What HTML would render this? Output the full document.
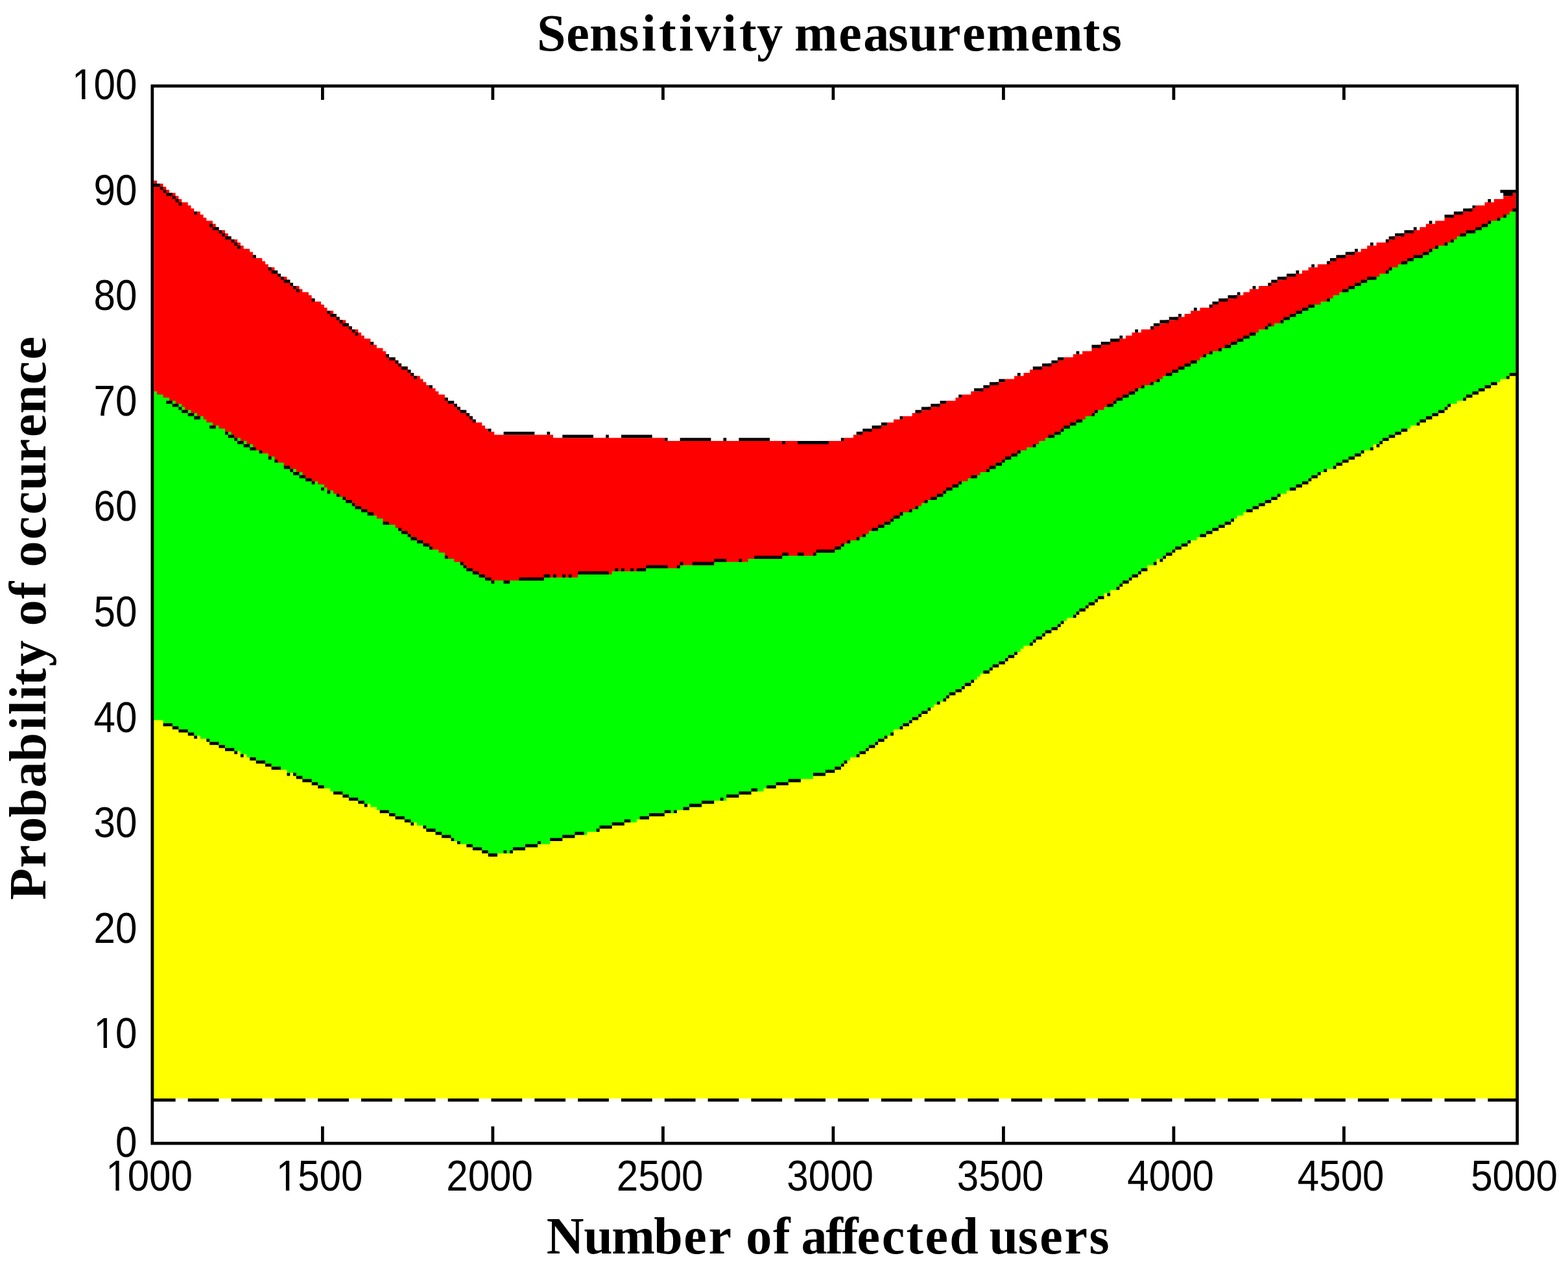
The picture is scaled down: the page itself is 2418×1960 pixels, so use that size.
<!DOCTYPE html>
<html lang="en">
<head>
<meta charset="utf-8">
<title>Sensitivity measurements</title>
<style>
html,body{margin:0;padding:0;background:#ffffff;width:2418px;height:1960px;overflow:hidden}
svg text{fill:#000000}
.tk{font-family:"Liberation Sans",Arial,Helvetica,sans-serif;font-size:67.3px}
.lb{font-family:"Liberation Serif","Times New Roman",Times,serif;font-weight:bold;font-size:80.0px}
</style>
</head>
<body>
<svg width="2418" height="1960" viewBox="0 0 2418 1960" style="display:block">
<rect x="0" y="0" width="2418" height="1960" fill="#ffffff"/>
<path fill="#ff0000" d="M237.24 1693.89V278.42H242.02V283.2H251.56V287.99H256.33V292.77H261.11V297.55H270.65V302.33H275.43V307.11H280.2V311.9H289.75V316.68H294.52V321.46H299.29V326.24H308.84V331.02H313.61V335.81H318.38V340.59H327.93V345.37H332.7V350.15H337.48V354.93H347.02V359.72H351.79V364.5H356.57V369.28H366.11V374.06H370.89V378.84H375.66V383.63H385.21V388.41H389.98V393.19H394.75V397.97H404.3V402.75H409.07V407.54H413.84V412.32H423.39V417.1H428.16V421.88H432.94V426.66H442.48V431.45H447.25V436.23H452.03V441.01H461.57V445.79H466.35V450.57H475.89V455.36H480.67V460.14H485.44V464.92H494.99V469.7H499.76V474.48H504.53V479.27H514.08V484.05H518.85V488.83H523.62V493.61H533.17V498.39H537.94V503.18H542.72V507.96H552.26V512.74H557.03V517.52H561.81V522.3H571.35V527.09H576.13V531.87H580.9V536.65H590.44V541.43H595.22V546.21H599.99V551H609.54V555.78H614.31V560.56H619.08V565.34H628.63V570.12H633.4V574.91H638.17V579.69H647.72V584.47H652.49V589.25H657.27V594.03H666.81V598.82H671.59V603.6H676.36V608.38H685.9V613.16H690.68V617.94H695.45V622.73H705V627.51H709.77V632.29H714.54V637.07H724.09V641.85H728.86V646.64H733.63V651.42H743.18V656.2H747.95V660.98H752.73V665.76H762.27V670.55H852.96V675.33H1024.79V680.11H1301.62V675.33H1315.94V670.55H1325.49V665.76H1339.81V660.98H1354.12V656.2H1368.44V651.42H1377.99V646.64H1392.31V641.85H1406.63V637.07H1420.95V632.29H1430.49V627.51H1444.81V622.73H1459.13V617.94H1473.45V613.16H1483V608.38H1497.32V603.6H1511.63V598.82H1525.95V594.03H1535.5V589.25H1549.82V584.47H1564.14V579.69H1578.46V574.91H1588V570.12H1602.32V565.34H1616.64V560.56H1630.96V555.78H1640.5V551H1654.82V546.21H1669.14V541.43H1683.46V536.65H1693.01V531.87H1707.33V527.09H1721.65V522.3H1735.96V517.52H1745.51V512.74H1759.83V507.96H1774.15V503.18H1788.47V498.39H1798.01V493.61H1812.33V488.83H1826.65V484.05H1836.2V479.27H1850.52V474.48H1864.84V469.7H1879.15V464.92H1888.7V460.14H1903.02V455.36H1917.34V450.57H1926.88V445.79H1941.2V441.01H1955.52V436.23H1969.84V431.45H1979.39V426.66H1993.71V421.88H2008.03V417.1H2017.57V412.32H2031.89V407.54H2046.21V402.75H2055.76V397.97H2070.07V393.19H2084.39V388.41H2098.71V383.63H2108.26V378.84H2122.58V374.06H2136.9V369.28H2146.44V364.5H2160.76V359.72H2175.08V354.93H2189.4V350.15H2198.95V345.37H2213.26V340.59H2227.58V335.81H2237.13V331.02H2251.45V326.24H2265.77V321.46H2275.31V316.68H2289.63V311.9H2303.95V307.11H2318.27V302.33H2327.82V297.55H2337.36V1693.89Z"/>
<path fill="#00ff00" d="M237.24 1693.89V603.6H242.02V608.38H251.56V613.16H261.11V617.94H270.65V622.73H280.2V627.51H284.97V632.29H294.52V637.07H304.06V641.85H313.61V646.64H318.38V651.42H327.93V656.2H337.48V660.98H347.02V665.76H356.57V670.55H361.34V675.33H370.89V680.11H380.43V684.89H389.98V689.67H394.75V694.46H404.3V699.24H413.84V704.02H423.39V708.8H428.16V713.58H437.71V718.37H447.25V723.15H456.8V727.93H466.35V732.71H471.12V737.49H480.67V742.28H490.21V747.06H499.76V751.84H504.53V756.62H514.08V761.4H523.62V766.19H533.17V770.97H542.72V775.75H547.49V780.53H557.03V785.31H566.58V790.1H576.13V794.88H580.9V799.66H590.44V804.44H599.99V809.22H609.54V814.01H614.31V818.79H623.86V823.57H633.4V828.35H642.95V833.13H652.49V837.92H657.27V842.7H666.81V847.48H676.36V852.26H685.9V857.04H690.68V861.83H700.22V866.61H709.77V871.39H719.32V876.17H728.86V880.95H733.63V885.74H743.18V890.52H752.73V895.3H838.64V890.52H891.14V885.74H943.65V880.95H996.15V876.17H1048.65V871.39H1101.16V866.61H1153.66V861.83H1206.16V857.04H1258.66V852.26H1287.3V847.48H1292.08V842.7H1301.62V837.92H1311.17V833.13H1320.71V828.35H1330.26V823.57H1339.81V818.79H1349.35V814.01H1358.9V809.22H1363.67V804.44H1373.22V799.66H1382.76V794.88H1392.31V790.1H1401.86V785.31H1411.4V780.53H1420.95V775.75H1430.49V770.97H1440.04V766.19H1449.59V761.4H1454.36V756.62H1463.9V751.84H1473.45V747.06H1483V742.28H1492.54V737.49H1502.09V732.71H1511.63V727.93H1521.18V723.15H1530.73V718.37H1535.5V713.58H1545.04V708.8H1554.59V704.02H1564.14V699.24H1573.68V694.46H1583.23V689.67H1592.77V684.89H1602.32V680.11H1611.87V675.33H1621.41V670.55H1626.19V665.76H1635.73V660.98H1645.28V656.2H1654.82V651.42H1664.37V646.64H1673.92V641.85H1683.46V637.07H1693.01V632.29H1702.55V627.51H1712.1V622.73H1716.87V617.94H1726.42V613.16H1735.96V608.38H1745.51V603.6H1755.06V598.82H1764.6V594.03H1774.15V589.25H1783.69V584.47H1793.24V579.69H1798.01V574.91H1807.56V570.12H1821.88V565.34H1831.42V560.56H1840.97V555.78H1850.52V551H1860.06V546.21H1869.61V541.43H1883.93V536.65H1893.47V531.87H1903.02V527.09H1912.57V522.3H1922.11V517.52H1931.66V512.74H1941.2V507.96H1950.75V503.18H1965.07V498.39H1974.62V493.61H1984.16V488.83H1993.71V484.05H2003.25V479.27H2012.8V474.48H2022.34V469.7H2036.66V464.92H2046.21V460.14H2055.76V455.36H2065.3V450.57H2074.85V445.79H2084.39V441.01H2093.94V436.23H2103.49V431.45H2117.8V426.66H2127.35V421.88H2136.9V417.1H2146.44V412.32H2155.99V407.54H2165.53V402.75H2175.08V397.97H2189.4V393.19H2198.95V388.41H2208.49V383.63H2218.04V378.84H2227.58V374.06H2237.13V369.28H2246.68V364.5H2256.22V359.72H2270.54V354.93H2280.09V350.15H2289.63V345.37H2299.18V340.59H2308.72V335.81H2318.27V331.02H2327.82V326.24H2337.36V1693.89Z"/>
<path fill="#ffff00" d="M237.24 1693.89V1110.49H251.56V1115.27H261.11V1120.05H275.43V1124.84H284.97V1129.62H299.29V1134.4H308.84V1139.18H323.16V1143.96H332.7V1148.75H347.02V1153.53H356.57V1158.31H370.89V1163.09H380.43V1167.87H394.75V1172.66H404.3V1177.44H418.62V1182.22H428.16V1187H442.48V1191.78H452.03V1196.57H461.57V1201.35H475.89V1206.13H485.44V1210.91H499.76V1215.69H509.3V1220.48H523.62V1225.26H533.17V1230.04H547.49V1234.82H557.03V1239.6H571.35V1244.39H580.9V1249.17H595.22V1253.95H604.76V1258.73H619.08V1263.51H628.63V1268.3H642.95V1273.08H652.49V1277.86H662.04V1282.64H676.36V1287.42H685.9V1292.21H700.22V1296.99H709.77V1301.77H724.09V1306.55H733.63V1311.33H747.95V1316.12H790.91V1311.33H810V1306.55H829.1V1301.77H848.19V1296.99H867.28V1292.21H886.37V1287.42H905.46V1282.64H924.55V1277.86H943.65V1273.08H962.74V1268.3H981.83V1263.51H1000.92V1258.73H1020.01V1253.95H1039.11V1249.17H1062.97V1244.39H1082.06V1239.6H1101.16V1234.82H1120.25V1230.04H1139.34V1225.26H1158.43V1220.48H1177.52V1215.69H1196.62V1210.91H1215.71V1206.13H1234.8V1201.35H1253.89V1196.57H1272.98V1191.78H1287.3V1187H1292.08V1182.22H1296.85V1177.44H1306.39V1172.66H1311.17V1167.87H1320.71V1163.09H1325.49V1158.31H1335.03V1153.53H1344.58V1148.75H1349.35V1143.96H1358.9V1139.18H1363.67V1134.4H1373.22V1129.62H1377.99V1124.84H1387.54V1120.05H1392.31V1115.27H1401.86V1110.49H1406.63V1105.71H1416.17V1100.93H1425.72V1096.14H1430.49V1091.36H1440.04V1086.58H1444.81V1081.8H1454.36V1077.02H1459.13V1072.23H1468.68V1067.45H1473.45V1062.67H1483V1057.89H1487.77V1053.11H1497.32V1048.32H1506.86V1043.54H1511.63V1038.76H1521.18V1033.98H1525.95V1029.2H1535.5V1024.41H1540.27V1019.63H1549.82V1014.85H1554.59V1010.07H1564.14V1005.29H1573.68V1000.5H1578.46V995.72H1588V990.94H1592.77V986.16H1602.32V981.38H1607.09V976.59H1616.64V971.81H1621.41V967.03H1630.96V962.25H1635.73V957.47H1645.28V952.68H1654.82V947.9H1659.6V943.12H1669.14V938.34H1673.92V933.56H1683.46V928.77H1688.23V923.99H1697.78V919.21H1702.55V914.43H1712.1V909.65H1721.65V904.86H1726.42V900.08H1735.96V895.3H1740.74V890.52H1750.28V885.74H1755.06V880.95H1764.6V876.17H1769.38V871.39H1778.92V866.61H1783.69V861.83H1793.24V857.04H1802.79V852.26H1807.56V847.48H1817.11V842.7H1826.65V837.92H1836.2V833.13H1845.74V828.35H1855.29V823.57H1864.84V818.79H1874.38V814.01H1883.93V809.22H1893.47V804.44H1903.02V799.66H1907.79V794.88H1917.34V790.1H1926.88V785.31H1936.43V780.53H1945.98V775.75H1955.52V770.97H1965.07V766.19H1974.62V761.4H1984.16V756.62H1993.71V751.84H2003.25V747.06H2012.8V742.28H2017.57V737.49H2027.12V732.71H2036.66V727.93H2046.21V723.15H2055.76V718.37H2065.3V713.58H2074.85V708.8H2084.39V704.02H2093.94V699.24H2103.49V694.46H2113.03V689.67H2117.8V684.89H2127.35V680.11H2136.9V675.33H2146.44V670.55H2155.99V665.76H2165.53V660.98H2175.08V656.2H2184.63V651.42H2194.17V646.64H2203.72V641.85H2213.26V637.07H2222.81V632.29H2227.58V627.51H2237.13V622.73H2246.68V617.94H2256.22V613.16H2265.77V608.38H2275.31V603.6H2284.86V598.82H2294.41V594.03H2303.95V589.25H2313.5V584.47H2323.04V579.69H2327.82V574.91H2337.36V1693.89Z"/>
<path fill="#000000" d="M494.99 134.96H499.76V139.74H494.99ZM757.5 134.96H762.27V139.74H757.5ZM1020.01 134.96H1024.79V139.74H1020.01ZM1282.53 134.96H1287.3V139.74H1282.53ZM1545.04 134.96H1549.82V139.74H1545.04ZM1807.56 134.96H1812.33V139.74H1807.56ZM2070.07 134.96H2074.85V139.74H2070.07ZM494.99 139.74H499.76V144.53H494.99ZM757.5 139.74H762.27V144.53H757.5ZM1020.01 139.74H1024.79V144.53H1020.01ZM1282.53 139.74H1287.3V144.53H1282.53ZM1545.04 139.74H1549.82V144.53H1545.04ZM1807.56 139.74H1812.33V144.53H1807.56ZM2070.07 139.74H2074.85V144.53H2070.07ZM494.99 144.53H499.76V149.31H494.99ZM757.5 144.53H762.27V149.31H757.5ZM1020.01 144.53H1024.79V149.31H1020.01ZM1282.53 144.53H1287.3V149.31H1282.53ZM1545.04 144.53H1549.82V149.31H1545.04ZM1807.56 144.53H1812.33V149.31H1807.56ZM2070.07 144.53H2074.85V149.31H2070.07ZM494.99 149.31H499.76V154.09H494.99ZM757.5 149.31H762.27V154.09H757.5ZM1020.01 149.31H1024.79V154.09H1020.01ZM1282.53 149.31H1287.3V154.09H1282.53ZM1545.04 149.31H1549.82V154.09H1545.04ZM1807.56 149.31H1812.33V154.09H1807.56ZM2070.07 149.31H2074.85V154.09H2070.07ZM237.24 283.2H246.79V287.99H237.24ZM246.79 287.99H251.56V292.77H246.79ZM251.56 292.77H256.33V297.55H251.56ZM2313.5 292.77H2337.36V297.55H2313.5ZM256.33 297.55H265.88V302.33H256.33ZM2318.27 297.55H2332.59V302.33H2318.27ZM265.88 302.33H270.65V307.11H265.88ZM270.65 307.11H275.43V311.9H270.65ZM2294.41 307.11H2299.18V311.9H2294.41ZM275.43 311.9H280.2V316.68H275.43ZM2270.54 316.68H2275.31V321.46H2270.54ZM2256.22 321.46H2270.54V326.24H2256.22ZM2332.59 321.46H2337.36V326.24H2332.59ZM299.29 326.24H304.06V331.02H299.29ZM2241.9 326.24H2256.22V331.02H2241.9ZM2227.58 331.02H2241.9V335.81H2227.58ZM2318.27 331.02H2323.04V335.81H2318.27ZM2308.72 335.81H2313.5V340.59H2308.72ZM2203.72 340.59H2208.49V345.37H2203.72ZM2294.41 340.59H2299.18V345.37H2294.41ZM323.16 345.37H327.93V350.15H323.16ZM2284.86 345.37H2294.41V350.15H2284.86ZM327.93 350.15H337.48V354.93H327.93ZM2179.85 350.15H2184.63V354.93H2179.85ZM2275.31 350.15H2284.86V354.93H2275.31ZM337.48 354.93H342.25V359.72H337.48ZM2165.53 354.93H2179.85V359.72H2165.53ZM2260.99 354.93H2275.31V359.72H2260.99ZM342.25 359.72H347.02V364.5H342.25ZM2151.22 359.72H2165.53V364.5H2151.22ZM2251.45 359.72H2260.99V364.5H2251.45ZM347.02 364.5H356.57V369.28H347.02ZM2141.67 364.5H2151.22V369.28H2141.67ZM356.57 369.28H361.34V374.06H356.57ZM2136.9 369.28H2141.67V374.06H2136.9ZM2237.13 369.28H2241.9V374.06H2237.13ZM361.34 374.06H366.11V378.84H361.34ZM2113.03 374.06H2117.8V378.84H2113.03ZM2227.58 374.06H2232.36V378.84H2227.58ZM366.11 378.84H370.89V383.63H366.11ZM2213.26 378.84H2218.04V383.63H2213.26ZM2089.17 383.63H2093.94V388.41H2089.17ZM2203.72 383.63H2208.49V388.41H2203.72ZM2074.85 388.41H2089.17V393.19H2074.85ZM2194.17 388.41H2203.72V393.19H2194.17ZM389.98 393.19H394.75V397.97H389.98ZM2060.53 393.19H2074.85V397.97H2060.53ZM2179.85 393.19H2194.17V397.97H2179.85ZM2050.98 397.97H2060.53V402.75H2050.98ZM2170.31 397.97H2179.85V402.75H2170.31ZM2046.21 402.75H2050.98V407.54H2046.21ZM2160.76 402.75H2170.31V407.54H2160.76ZM2022.34 407.54H2027.12V412.32H2022.34ZM413.84 412.32H418.62V417.1H413.84ZM2141.67 412.32H2146.44V417.1H2141.67ZM418.62 417.1H428.16V421.88H418.62ZM1998.48 417.1H2003.25V421.88H1998.48ZM2136.9 417.1H2141.67V421.88H2136.9ZM428.16 421.88H432.94V426.66H428.16ZM1984.16 421.88H1998.48V426.66H1984.16ZM432.94 426.66H437.71V431.45H432.94ZM1969.84 426.66H1984.16V431.45H1969.84ZM2108.26 426.66H2122.58V431.45H2108.26ZM437.71 431.45H447.25V436.23H437.71ZM1960.3 431.45H1969.84V436.23H1960.3ZM2098.71 431.45H2108.26V436.23H2098.71ZM447.25 436.23H452.03V441.01H447.25ZM1955.52 436.23H1960.3V441.01H1955.52ZM2089.17 436.23H2098.71V441.01H2089.17ZM452.03 441.01H456.8V445.79H452.03ZM1931.66 441.01H1936.43V445.79H1931.66ZM2079.62 441.01H2089.17V445.79H2079.62ZM456.8 445.79H461.57V450.57H456.8ZM2070.07 445.79H2079.62V450.57H2070.07ZM1907.79 450.57H1912.57V455.36H1907.79ZM1893.47 455.36H1907.79V460.14H1893.47ZM480.67 460.14H485.44V464.92H480.67ZM1879.15 460.14H1893.47V464.92H1879.15ZM2046.21 460.14H2050.98V464.92H2046.21ZM1869.61 464.92H1879.15V469.7H1869.61ZM1864.84 469.7H1869.61V474.48H1864.84ZM2017.57 469.7H2027.12V474.48H2017.57ZM1840.97 474.48H1845.74V479.27H1840.97ZM2008.03 474.48H2017.57V479.27H2008.03ZM504.53 479.27H509.3V484.05H504.53ZM1998.48 479.27H2008.03V484.05H1998.48ZM509.3 484.05H518.85V488.83H509.3ZM1817.11 484.05H1821.88V488.83H1817.11ZM1988.93 484.05H1998.48V488.83H1988.93ZM518.85 488.83H523.62V493.61H518.85ZM1802.79 488.83H1817.11V493.61H1802.79ZM1979.39 488.83H1988.93V493.61H1979.39ZM523.62 493.61H528.4V498.39H523.62ZM1788.47 493.61H1802.79V498.39H1788.47ZM1974.62 493.61H1979.39V498.39H1974.62ZM528.4 498.39H537.94V503.18H528.4ZM1778.92 498.39H1788.47V503.18H1778.92ZM1955.52 498.39H1960.3V503.18H1955.52ZM537.94 503.18H542.72V507.96H537.94ZM1774.15 503.18H1778.92V507.96H1774.15ZM1950.75 503.18H1955.52V507.96H1950.75ZM542.72 507.96H547.49V512.74H542.72ZM1750.28 507.96H1755.06V512.74H1750.28ZM547.49 512.74H552.26V517.52H547.49ZM1926.88 512.74H1936.43V517.52H1926.88ZM1726.42 517.52H1731.19V522.3H1726.42ZM1917.34 517.52H1926.88V522.3H1917.34ZM1712.1 522.3H1726.42V527.09H1712.1ZM1907.79 522.3H1917.34V527.09H1907.79ZM571.35 527.09H576.13V531.87H571.35ZM1697.78 527.09H1712.1V531.87H1697.78ZM1898.25 527.09H1907.79V531.87H1898.25ZM1683.46 531.87H1697.78V536.65H1683.46ZM1888.7 531.87H1898.25V536.65H1888.7ZM1879.15 536.65H1883.93V541.43H1879.15ZM1659.6 541.43H1664.37V546.21H1659.6ZM1864.84 541.43H1869.61V546.21H1864.84ZM595.22 546.21H599.99V551H595.22ZM1855.29 546.21H1860.06V551H1855.29ZM599.99 551H609.54V555.78H599.99ZM1630.96 551H1640.5V555.78H1630.96ZM609.54 555.78H614.31V560.56H609.54ZM1621.41 555.78H1630.96V560.56H1621.41ZM1836.2 555.78H1845.74V560.56H1836.2ZM614.31 560.56H619.08V565.34H614.31ZM1607.09 560.56H1621.41V565.34H1607.09ZM1826.65 560.56H1836.2V565.34H1826.65ZM619.08 565.34H628.63V570.12H619.08ZM1592.77 565.34H1607.09V570.12H1592.77ZM1817.11 565.34H1826.65V570.12H1817.11ZM628.63 570.12H633.4V574.91H628.63ZM1807.56 570.12H1817.11V574.91H1807.56ZM633.4 574.91H638.17V579.69H633.4ZM1568.91 574.91H1573.68V579.69H1568.91ZM1798.01 574.91H1807.56V579.69H1798.01ZM2327.82 574.91H2337.36V579.69H2327.82ZM638.17 579.69H642.95V584.47H638.17ZM2323.04 579.69H2327.82V584.47H2323.04ZM1540.27 584.47H1549.82V589.25H1540.27ZM1783.69 584.47H1788.47V589.25H1783.69ZM1525.95 589.25H1540.27V594.03H1525.95ZM1774.15 589.25H1778.92V594.03H1774.15ZM2299.18 589.25H2308.72V594.03H2299.18ZM662.04 594.03H666.81V598.82H662.04ZM1516.41 594.03H1525.95V598.82H1516.41ZM1759.83 594.03H1764.6V598.82H1759.83ZM2289.63 594.03H2299.18V598.82H2289.63ZM1502.09 598.82H1516.41V603.6H1502.09ZM1750.28 598.82H1755.06V603.6H1750.28ZM2280.09 598.82H2289.63V603.6H2280.09ZM1740.74 603.6H1750.28V608.38H1740.74ZM2270.54 603.6H2280.09V608.38H2270.54ZM1478.22 608.38H1483V613.16H1478.22ZM1731.19 608.38H1740.74V613.16H1731.19ZM2260.99 608.38H2270.54V613.16H2260.99ZM685.9 613.16H690.68V617.94H685.9ZM1721.65 613.16H1731.19V617.94H1721.65ZM2256.22 613.16H2260.99V617.94H2256.22ZM256.33 617.94H265.88V622.73H256.33ZM690.68 617.94H700.22V622.73H690.68ZM1449.59 617.94H1459.13V622.73H1449.59ZM1716.87 617.94H1721.65V622.73H1716.87ZM265.88 622.73H275.43V627.51H265.88ZM700.22 622.73H705V627.51H700.22ZM1435.27 622.73H1449.59V627.51H1435.27ZM1707.33 622.73H1716.87V627.51H1707.33ZM2232.36 622.73H2237.13V627.51H2232.36ZM275.43 627.51H280.2V632.29H275.43ZM705 627.51H709.77V632.29H705ZM1420.95 627.51H1435.27V632.29H1420.95ZM2227.58 627.51H2232.36V632.29H2227.58ZM280.2 632.29H289.75V637.07H280.2ZM709.77 632.29H719.32V637.07H709.77ZM1411.4 632.29H1420.95V637.07H1411.4ZM1688.23 632.29H1693.01V637.07H1688.23ZM2218.04 632.29H2227.58V637.07H2218.04ZM289.75 637.07H299.29V641.85H289.75ZM719.32 637.07H724.09V641.85H719.32ZM1683.46 637.07H1688.23V641.85H1683.46ZM2208.49 637.07H2218.04V641.85H2208.49ZM299.29 641.85H308.84V646.64H299.29ZM724.09 641.85H728.86V646.64H724.09ZM1387.54 641.85H1392.31V646.64H1387.54ZM2198.95 641.85H2208.49V646.64H2198.95ZM728.86 646.64H733.63V651.42H728.86ZM1659.6 646.64H1669.14V651.42H1659.6ZM2189.4 646.64H2198.95V651.42H2189.4ZM1358.9 651.42H1368.44V656.2H1358.9ZM1650.05 651.42H1659.6V656.2H1650.05ZM2184.63 651.42H2189.4V656.2H2184.63ZM323.16 656.2H332.7V660.98H323.16ZM1344.58 656.2H1358.9V660.98H1344.58ZM1640.5 656.2H1650.05V660.98H1640.5ZM752.73 660.98H757.5V665.76H752.73ZM1330.26 660.98H1344.58V665.76H1330.26ZM1635.73 660.98H1640.5V665.76H1635.73ZM2160.76 660.98H2170.31V665.76H2160.76ZM347.02 665.76H351.79V670.55H347.02ZM776.59 665.76H824.32V670.55H776.59ZM843.41 665.76H848.19V670.55H843.41ZM1320.71 665.76H1330.26V670.55H1320.71ZM1626.19 665.76H1635.73V670.55H1626.19ZM2151.22 665.76H2160.76V670.55H2151.22ZM351.79 670.55H361.34V675.33H351.79ZM867.28 670.55H915.01V675.33H867.28ZM934.1 670.55H938.87V675.33H934.1ZM957.97 670.55H1005.7V675.33H957.97ZM1616.64 670.55H1626.19V675.33H1616.64ZM2141.67 670.55H2151.22V675.33H2141.67ZM361.34 675.33H366.11V680.11H361.34ZM1024.79 675.33H1029.56V680.11H1024.79ZM1048.65 675.33H1096.38V680.11H1048.65ZM1115.47 675.33H1120.25V680.11H1115.47ZM1139.34 675.33H1187.07V680.11H1139.34ZM1296.85 675.33H1301.62V680.11H1296.85ZM2132.12 675.33H2141.67V680.11H2132.12ZM366.11 680.11H375.66V684.89H366.11ZM1206.16 680.11H1210.93V684.89H1206.16ZM1230.03 680.11H1277.76V684.89H1230.03ZM2127.35 680.11H2132.12V684.89H2127.35ZM375.66 684.89H385.21V689.67H375.66ZM1592.77 684.89H1597.55V689.67H1592.77ZM2122.58 684.89H2127.35V689.67H2122.58ZM385.21 689.67H394.75V694.46H385.21ZM2113.03 689.67H2117.8V694.46H2113.03ZM399.52 694.46H404.3V699.24H399.52ZM1568.91 694.46H1573.68V699.24H1568.91ZM2098.71 694.46H2103.49V699.24H2098.71ZM1559.36 699.24H1568.91V704.02H1559.36ZM2089.17 699.24H2098.71V704.02H2089.17ZM413.84 704.02H418.62V708.8H413.84ZM1549.82 704.02H1559.36V708.8H1549.82ZM2079.62 704.02H2089.17V708.8H2079.62ZM423.39 708.8H428.16V713.58H423.39ZM1545.04 708.8H1549.82V713.58H1545.04ZM2070.07 708.8H2079.62V713.58H2070.07ZM1535.5 713.58H1545.04V718.37H1535.5ZM2060.53 713.58H2070.07V718.37H2060.53ZM437.71 718.37H447.25V723.15H437.71ZM1525.95 718.37H1535.5V723.15H1525.95ZM2055.76 718.37H2060.53V723.15H2055.76ZM447.25 723.15H452.03V727.93H447.25ZM1521.18 723.15H1525.95V727.93H1521.18ZM2041.44 723.15H2046.21V727.93H2041.44ZM452.03 727.93H461.57V732.71H452.03ZM2031.89 727.93H2036.66V732.71H2031.89ZM461.57 732.71H471.12V737.49H461.57ZM1497.32 732.71H1506.86V737.49H1497.32ZM2022.34 732.71H2031.89V737.49H2022.34ZM471.12 737.49H480.67V742.28H471.12ZM2017.57 737.49H2022.34V742.28H2017.57ZM480.67 742.28H485.44V747.06H480.67ZM1478.22 742.28H1483V747.06H1478.22ZM2008.03 742.28H2017.57V747.06H2008.03ZM1468.68 747.06H1478.22V751.84H1468.68ZM1998.48 747.06H2008.03V751.84H1998.48ZM494.99 751.84H499.76V756.62H494.99ZM1459.13 751.84H1468.68V756.62H1459.13ZM1988.93 751.84H1998.48V756.62H1988.93ZM504.53 756.62H509.3V761.4H504.53ZM1454.36 756.62H1459.13V761.4H1454.36ZM518.85 761.4H523.62V766.19H518.85ZM1444.81 761.4H1454.36V766.19H1444.81ZM1969.84 761.4H1974.62V766.19H1969.84ZM528.4 766.19H533.17V770.97H528.4ZM1435.27 766.19H1444.81V770.97H1435.27ZM1960.3 766.19H1969.84V770.97H1960.3ZM533.17 770.97H542.72V775.75H533.17ZM1425.72 770.97H1430.49V775.75H1425.72ZM1950.75 770.97H1960.3V775.75H1950.75ZM542.72 775.75H547.49V780.53H542.72ZM1941.2 775.75H1950.75V780.53H1941.2ZM547.49 780.53H557.03V785.31H547.49ZM1411.4 780.53H1416.17V785.31H1411.4ZM1931.66 780.53H1941.2V785.31H1931.66ZM557.03 785.31H566.58V790.1H557.03ZM1401.86 785.31H1406.63V790.1H1401.86ZM1922.11 785.31H1931.66V790.1H1922.11ZM566.58 790.1H576.13V794.88H566.58ZM1387.54 790.1H1392.31V794.88H1387.54ZM1377.99 794.88H1387.54V799.66H1377.99ZM1373.22 799.66H1377.99V804.44H1373.22ZM1898.25 799.66H1903.02V804.44H1898.25ZM590.44 804.44H599.99V809.22H590.44ZM1363.67 804.44H1373.22V809.22H1363.67ZM1888.7 804.44H1898.25V809.22H1888.7ZM1354.12 809.22H1363.67V814.01H1354.12ZM1879.15 809.22H1888.7V814.01H1879.15ZM614.31 814.01H619.08V818.79H614.31ZM1344.58 814.01H1354.12V818.79H1344.58ZM1869.61 814.01H1879.15V818.79H1869.61ZM619.08 818.79H628.63V823.57H619.08ZM1860.06 818.79H1869.61V823.57H1860.06ZM628.63 823.57H633.4V828.35H628.63ZM1330.26 823.57H1335.03V828.35H1330.26ZM1850.52 823.57H1860.06V828.35H1850.52ZM633.4 828.35H642.95V833.13H633.4ZM1320.71 828.35H1325.49V833.13H1320.71ZM642.95 833.13H652.49V837.92H642.95ZM1306.39 833.13H1311.17V837.92H1306.39ZM1831.42 833.13H1836.2V837.92H1831.42ZM652.49 837.92H662.04V842.7H652.49ZM1296.85 837.92H1301.62V842.7H1296.85ZM1821.88 837.92H1831.42V842.7H1821.88ZM662.04 842.7H666.81V847.48H662.04ZM1287.3 842.7H1296.85V847.48H1287.3ZM1812.33 842.7H1821.88V847.48H1812.33ZM1258.66 847.48H1287.3V852.26H1258.66ZM1807.56 847.48H1812.33V852.26H1807.56ZM1206.16 852.26H1215.71V857.04H1206.16ZM1230.03 852.26H1239.57V857.04H1230.03ZM1253.89 852.26H1258.66V857.04H1253.89ZM1798.01 852.26H1807.56V857.04H1798.01ZM685.9 857.04H690.68V861.83H685.9ZM1163.2 857.04H1206.16V861.83H1163.2ZM1793.24 857.04H1798.01V861.83H1793.24ZM1101.16 861.83H1120.25V866.61H1101.16ZM1139.34 861.83H1144.11V866.61H1139.34ZM1788.47 861.83H1793.24V866.61H1788.47ZM709.77 866.61H714.54V871.39H709.77ZM1048.65 866.61H1053.43V871.39H1048.65ZM1067.74 866.61H1101.16V871.39H1067.74ZM1778.92 866.61H1783.69V871.39H1778.92ZM714.54 871.39H719.32V876.17H714.54ZM996.15 871.39H1029.56V876.17H996.15ZM1043.88 871.39H1048.65V876.17H1043.88ZM719.32 876.17H728.86V880.95H719.32ZM948.42 876.17H953.19V880.95H948.42ZM957.97 876.17H962.74V880.95H957.97ZM972.28 876.17H977.06V880.95H972.28ZM981.83 876.17H996.15V880.95H981.83ZM1759.83 876.17H1769.38V880.95H1759.83ZM728.86 880.95H738.41V885.74H728.86ZM891.14 880.95H938.87V885.74H891.14ZM1755.06 880.95H1759.83V885.74H1755.06ZM738.41 885.74H747.95V890.52H738.41ZM838.64 885.74H848.19V890.52H838.64ZM852.96 885.74H857.73V890.52H852.96ZM867.28 885.74H872.05V890.52H867.28ZM876.82 885.74H881.6V890.52H876.82ZM1745.51 885.74H1755.06V890.52H1745.51ZM747.95 890.52H757.5V895.3H747.95ZM800.46 890.52H838.64V895.3H800.46ZM1740.74 890.52H1745.51V895.3H1740.74ZM757.5 895.3H762.27V900.08H757.5ZM776.59 895.3H786.14V900.08H776.59ZM1731.19 895.3H1740.74V900.08H1731.19ZM1726.42 900.08H1731.19V904.86H1726.42ZM1721.65 904.86H1726.42V909.65H1721.65ZM1707.33 914.43H1712.1V919.21H1707.33ZM1693.01 919.21H1702.55V923.99H1693.01ZM1688.23 923.99H1693.01V928.77H1688.23ZM1678.69 928.77H1688.23V933.56H1678.69ZM1673.92 933.56H1678.69V938.34H1673.92ZM1664.37 938.34H1673.92V943.12H1664.37ZM1659.6 943.12H1664.37V947.9H1659.6ZM1654.82 947.9H1659.6V952.68H1654.82ZM1635.73 957.47H1640.5V962.25H1635.73ZM1630.96 962.25H1635.73V967.03H1630.96ZM1621.41 967.03H1630.96V971.81H1621.41ZM1611.87 971.81H1621.41V976.59H1611.87ZM1607.09 976.59H1611.87V981.38H1607.09ZM1597.55 981.38H1607.09V986.16H1597.55ZM1592.77 986.16H1597.55V990.94H1592.77ZM1588 990.94H1592.77V995.72H1588ZM1564.14 1005.29H1568.91V1010.07H1564.14ZM1554.59 1010.07H1564.14V1014.85H1554.59ZM1549.82 1014.85H1554.59V1019.63H1549.82ZM1540.27 1019.63H1549.82V1024.41H1540.27ZM1530.73 1024.41H1540.27V1029.2H1530.73ZM1525.95 1029.2H1530.73V1033.98H1525.95ZM1516.41 1033.98H1525.95V1038.76H1516.41ZM1497.32 1048.32H1502.09V1053.11H1497.32ZM1487.77 1053.11H1497.32V1057.89H1487.77ZM1483 1057.89H1487.77V1062.67H1483ZM1473.45 1062.67H1483V1067.45H1473.45ZM1463.9 1067.45H1473.45V1072.23H1463.9ZM1459.13 1072.23H1463.9V1077.02H1459.13ZM1454.36 1077.02H1459.13V1081.8H1454.36ZM1444.81 1081.8H1449.59V1086.58H1444.81ZM1430.49 1091.36H1435.27V1096.14H1430.49ZM1420.95 1096.14H1430.49V1100.93H1420.95ZM1416.17 1100.93H1420.95V1105.71H1416.17ZM1406.63 1105.71H1416.17V1110.49H1406.63ZM1401.86 1110.49H1406.63V1115.27H1401.86ZM251.56 1115.27H265.88V1120.05H251.56ZM1392.31 1115.27H1401.86V1120.05H1392.31ZM265.88 1120.05H275.43V1124.84H265.88ZM1387.54 1120.05H1392.31V1124.84H1387.54ZM275.43 1124.84H289.75V1129.62H275.43ZM289.75 1129.62H299.29V1134.4H289.75ZM1373.22 1129.62H1377.99V1134.4H1373.22ZM299.29 1134.4H304.06V1139.18H299.29ZM1363.67 1134.4H1368.44V1139.18H1363.67ZM318.38 1139.18H323.16V1143.96H318.38ZM1354.12 1139.18H1363.67V1143.96H1354.12ZM323.16 1143.96H337.48V1148.75H323.16ZM1349.35 1143.96H1354.12V1148.75H1349.35ZM337.48 1148.75H347.02V1153.53H337.48ZM1339.81 1148.75H1349.35V1153.53H1339.81ZM347.02 1153.53H361.34V1158.31H347.02ZM1335.03 1153.53H1339.81V1158.31H1335.03ZM361.34 1158.31H366.11V1163.09H361.34ZM1325.49 1158.31H1335.03V1163.09H1325.49ZM370.89 1163.09H375.66V1167.87H370.89ZM1320.71 1163.09H1325.49V1167.87H1320.71ZM385.21 1167.87H394.75V1172.66H385.21ZM394.75 1172.66H409.07V1177.44H394.75ZM1301.62 1172.66H1306.39V1177.44H1301.62ZM409.07 1177.44H418.62V1182.22H409.07ZM1296.85 1177.44H1301.62V1182.22H1296.85ZM418.62 1182.22H432.94V1187H418.62ZM1287.3 1182.22H1296.85V1187H1287.3ZM1272.98 1187H1287.3V1191.78H1272.98ZM442.48 1191.78H447.25V1196.57H442.48ZM452.03 1191.78H456.8V1196.57H452.03ZM1253.89 1191.78H1272.98V1196.57H1253.89ZM456.8 1196.57H466.35V1201.35H456.8ZM466.35 1201.35H480.67V1206.13H466.35ZM1215.71 1201.35H1234.8V1206.13H1215.71ZM480.67 1206.13H490.21V1210.91H480.67ZM1196.62 1206.13H1215.71V1210.91H1196.62ZM490.21 1210.91H499.76V1215.69H490.21ZM1182.3 1210.91H1196.62V1215.69H1182.3ZM1158.43 1215.69H1167.98V1220.48H1158.43ZM514.08 1220.48H528.4V1225.26H514.08ZM1139.34 1220.48H1158.43V1225.26H1139.34ZM528.4 1225.26H537.94V1230.04H528.4ZM1120.25 1225.26H1139.34V1230.04H1120.25ZM537.94 1230.04H552.26V1234.82H537.94ZM1110.7 1230.04H1115.47V1234.82H1110.7ZM552.26 1234.82H561.81V1239.6H552.26ZM1082.06 1234.82H1101.16V1239.6H1082.06ZM561.81 1239.6H566.58V1244.39H561.81ZM1062.97 1239.6H1082.06V1244.39H1062.97ZM1053.43 1244.39H1062.97V1249.17H1053.43ZM585.67 1249.17H599.99V1253.95H585.67ZM1024.79 1249.17H1034.33V1253.95H1024.79ZM1039.11 1249.17H1043.88V1253.95H1039.11ZM599.99 1253.95H609.54V1258.73H599.99ZM1000.92 1253.95H1024.79V1258.73H1000.92ZM609.54 1258.73H623.86V1263.51H609.54ZM986.6 1258.73H1000.92V1263.51H986.6ZM623.86 1263.51H633.4V1268.3H623.86ZM962.74 1263.51H972.28V1268.3H962.74ZM633.4 1268.3H638.17V1273.08H633.4ZM943.65 1268.3H962.74V1273.08H943.65ZM652.49 1273.08H657.27V1277.86H652.49ZM924.55 1273.08H943.65V1277.86H924.55ZM657.27 1277.86H671.59V1282.64H657.27ZM919.78 1277.86H924.55V1282.64H919.78ZM671.59 1282.64H681.13V1287.42H671.59ZM886.37 1282.64H900.69V1287.42H886.37ZM681.13 1287.42H695.45V1292.21H681.13ZM867.28 1287.42H886.37V1292.21H867.28ZM695.45 1292.21H700.22V1296.99H695.45ZM848.19 1292.21H867.28V1296.99H848.19ZM705 1296.99H709.77V1301.77H705ZM829.1 1296.99H833.87V1301.77H829.1ZM719.32 1301.77H728.86V1306.55H719.32ZM810 1301.77H829.1V1306.55H810ZM728.86 1306.55H743.18V1311.33H728.86ZM790.91 1306.55H810V1311.33H790.91ZM743.18 1311.33H752.73V1316.12H743.18ZM776.59 1311.33H781.37V1316.12H776.59ZM786.14 1311.33H790.91V1316.12H786.14ZM752.73 1316.12H767.05V1320.9H752.73ZM237.24 1693.89H270.65V1698.68H237.24ZM289.75 1693.89H337.48V1698.68H289.75ZM356.57 1693.89H404.3V1698.68H356.57ZM423.39 1693.89H471.12V1698.68H423.39ZM490.21 1693.89H537.94V1698.68H490.21ZM557.03 1693.89H604.76V1698.68H557.03ZM623.86 1693.89H671.59V1698.68H623.86ZM690.68 1693.89H738.41V1698.68H690.68ZM757.5 1693.89H805.23V1698.68H757.5ZM824.32 1693.89H872.05V1698.68H824.32ZM891.14 1693.89H938.87V1698.68H891.14ZM957.97 1693.89H1005.7V1698.68H957.97ZM1024.79 1693.89H1072.52V1698.68H1024.79ZM1091.61 1693.89H1139.34V1698.68H1091.61ZM1158.43 1693.89H1206.16V1698.68H1158.43ZM1225.25 1693.89H1272.98V1698.68H1225.25ZM1292.08 1693.89H1339.81V1698.68H1292.08ZM1358.9 1693.89H1406.63V1698.68H1358.9ZM1425.72 1693.89H1473.45V1698.68H1425.72ZM1492.54 1693.89H1540.27V1698.68H1492.54ZM1559.36 1693.89H1607.09V1698.68H1559.36ZM1626.19 1693.89H1673.92V1698.68H1626.19ZM1693.01 1693.89H1740.74V1698.68H1693.01ZM1759.83 1693.89H1807.56V1698.68H1759.83ZM1826.65 1693.89H1874.38V1698.68H1826.65ZM1893.47 1693.89H1941.2V1698.68H1893.47ZM1960.3 1693.89H2008.03V1698.68H1960.3ZM2027.12 1693.89H2074.85V1698.68H2027.12ZM2093.94 1693.89H2141.67V1698.68H2093.94ZM2160.76 1693.89H2208.49V1698.68H2160.76ZM2227.58 1693.89H2275.31V1698.68H2227.58ZM2294.41 1693.89H2337.36V1698.68H2294.41ZM494.99 1736.93H499.76V1741.71H494.99ZM757.5 1736.93H762.27V1741.71H757.5ZM1020.01 1736.93H1024.79V1741.71H1020.01ZM1282.53 1736.93H1287.3V1741.71H1282.53ZM1545.04 1736.93H1549.82V1741.71H1545.04ZM1807.56 1736.93H1812.33V1741.71H1807.56ZM2070.07 1736.93H2074.85V1741.71H2070.07ZM494.99 1741.71H499.76V1746.5H494.99ZM757.5 1741.71H762.27V1746.5H757.5ZM1020.01 1741.71H1024.79V1746.5H1020.01ZM1282.53 1741.71H1287.3V1746.5H1282.53ZM1545.04 1741.71H1549.82V1746.5H1545.04ZM1807.56 1741.71H1812.33V1746.5H1807.56ZM2070.07 1741.71H2074.85V1746.5H2070.07ZM494.99 1746.5H499.76V1751.28H494.99ZM757.5 1746.5H762.27V1751.28H757.5ZM1020.01 1746.5H1024.79V1751.28H1020.01ZM1282.53 1746.5H1287.3V1751.28H1282.53ZM1545.04 1746.5H1549.82V1751.28H1545.04ZM1807.56 1746.5H1812.33V1751.28H1807.56ZM2070.07 1746.5H2074.85V1751.28H2070.07ZM494.99 1751.28H499.76V1756.06H494.99ZM757.5 1751.28H762.27V1756.06H757.5ZM1020.01 1751.28H1024.79V1756.06H1020.01ZM1282.53 1751.28H1287.3V1756.06H1282.53ZM1545.04 1751.28H1549.82V1756.06H1545.04ZM1807.56 1751.28H1812.33V1756.06H1807.56ZM2070.07 1751.28H2074.85V1756.06H2070.07ZM494.99 1756.06H499.76V1760.84H494.99ZM757.5 1756.06H762.27V1760.84H757.5ZM1020.01 1756.06H1024.79V1760.84H1020.01ZM1282.53 1756.06H1287.3V1760.84H1282.53ZM1545.04 1756.06H1549.82V1760.84H1545.04ZM1807.56 1756.06H1812.33V1760.84H1807.56ZM2070.07 1756.06H2074.85V1760.84H2070.07ZM232.47 130.18H2342.14V134.96H232.47ZM232.47 1760.84H2342.14V1765.62H232.47ZM232.47 130.18H237.24V1765.62H232.47ZM2337.36 130.18H2342.14V1765.62H2337.36Z"/>
<text class="tk" transform="translate(177.93 1783.80) scale(0.8930 1)" x="0" y="0">0</text>
<text class="tk" transform="translate(144.51 1616.43) scale(0.8930 1)" x="0" y="0">10</text>
<text class="tk" transform="translate(144.51 1453.84) scale(0.8930 1)" x="0" y="0">20</text>
<text class="tk" transform="translate(144.51 1291.26) scale(0.8930 1)" x="0" y="0">30</text>
<text class="tk" transform="translate(144.51 1128.67) scale(0.8930 1)" x="0" y="0">40</text>
<text class="tk" transform="translate(144.51 966.08) scale(0.8930 1)" x="0" y="0">50</text>
<text class="tk" transform="translate(144.51 803.49) scale(0.8930 1)" x="0" y="0">60</text>
<text class="tk" transform="translate(144.51 640.90) scale(0.8930 1)" x="0" y="0">70</text>
<text class="tk" transform="translate(144.51 478.32) scale(0.8930 1)" x="0" y="0">80</text>
<text class="tk" transform="translate(144.51 315.73) scale(0.8930 1)" x="0" y="0">90</text>
<text class="tk" transform="translate(111.08 153.14) scale(0.8930 1)" x="0" y="0">100</text>
<text class="tk" transform="translate(163.25 1836.40) scale(0.8930 1)" x="0" y="0">1000</text>
<text class="tk" transform="translate(425.76 1836.40) scale(0.8930 1)" x="0" y="0">1500</text>
<text class="tk" transform="translate(688.28 1836.40) scale(0.8930 1)" x="0" y="0">2000</text>
<text class="tk" transform="translate(950.79 1836.40) scale(0.8930 1)" x="0" y="0">2500</text>
<text class="tk" transform="translate(1213.31 1836.40) scale(0.8930 1)" x="0" y="0">3000</text>
<text class="tk" transform="translate(1475.82 1836.40) scale(0.8930 1)" x="0" y="0">3500</text>
<text class="tk" transform="translate(1738.34 1836.40) scale(0.8930 1)" x="0" y="0">4000</text>
<text class="tk" transform="translate(2000.85 1836.40) scale(0.8930 1)" x="0" y="0">4500</text>
<text class="tk" transform="translate(2268.14 1836.40) scale(0.8930 1)" x="0" y="0">5000</text>
<rect x="148.08" y="1610.50" width="11.53" height="6.93" fill="#ffffff"/>
<rect x="164.93" y="1610.50" width="11.07" height="6.93" fill="#ffffff"/>
<rect x="114.66" y="147.21" width="11.53" height="6.93" fill="#ffffff"/>
<rect x="131.51" y="147.21" width="11.07" height="6.93" fill="#ffffff"/>
<rect x="166.83" y="1830.48" width="11.53" height="6.93" fill="#ffffff"/>
<rect x="183.67" y="1830.48" width="11.07" height="6.93" fill="#ffffff"/>
<rect x="429.34" y="1830.48" width="11.53" height="6.93" fill="#ffffff"/>
<rect x="446.19" y="1830.48" width="11.07" height="6.93" fill="#ffffff"/>
<text class="lb" y="77.8" x="828.0 873.2 909.1 954.2 989.6 1015.9 1046.9 1071.7 1113.7 1140.0 1167.2 1207.2 1225.1 1293.2 1331.2 1369.5 1401.7 1446.1 1484.1 1521.0 1589.1 1625.1 1669.8 1698.8">Sensitivity measurements</text>
<text class="lb" y="1933" x="842.8 900.3 943.2 1008.3 1054.3 1092.6 1128.1 1150.3 1192.0 1218.7 1235.5 1273.2 1297.1 1321.6 1359.8 1397.5 1426.6 1464.2 1508.7 1525.5 1569.7 1603.2 1641.5 1679.5">Number of affected users</text>
<text class="lb" transform="translate(70.3 1387.6) rotate(-90)" y="0" x="-0.1 49.0 87.6 127.1 173.0 213.2 261.2 285.3 309.0 330.5 360.2 400.2 422.3 464.2 490.8 513.2 555.7 594.0 631.0 675.4 713.6 749.6 794.8 833.1">Probability of occurence</text>
</svg>
</body>
</html>
